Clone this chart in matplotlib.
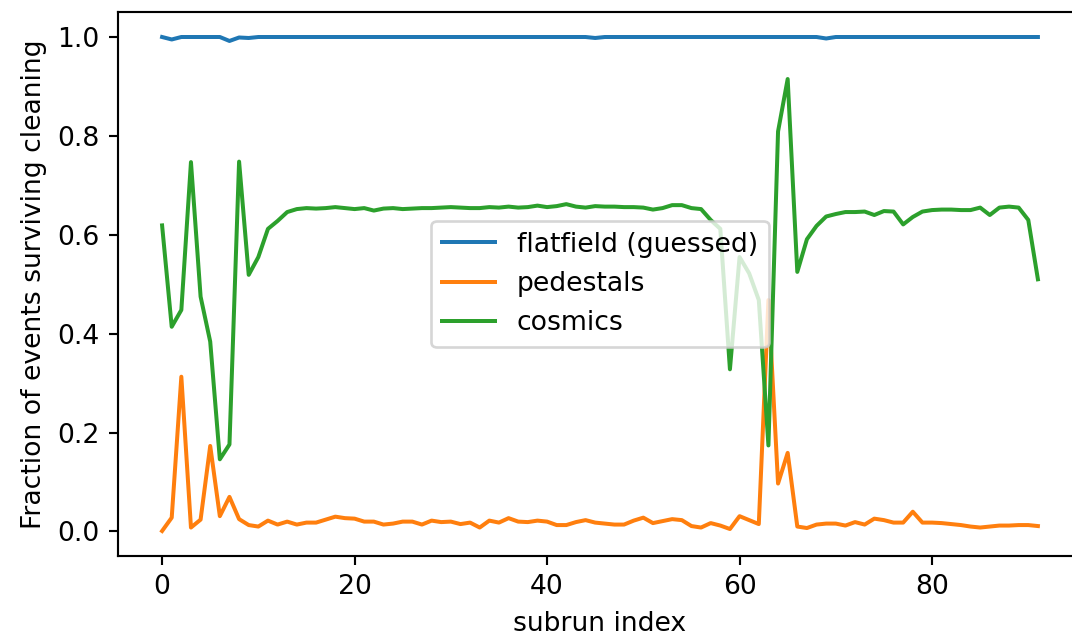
import matplotlib
matplotlib.use("Agg")
import matplotlib.pyplot as plt
import numpy as np

subrun_index = np.arange(92)

flatfield = [1.0, 0.995, 1.0, 1.0, 1.0, 1.0, 1.0, 0.992, 0.999, 0.998,
             1.0, 1.0, 1.0, 1.0, 1.0, 1.0, 1.0, 1.0, 1.0, 1.0,
             1.0, 1.0, 1.0, 1.0, 1.0, 1.0, 1.0, 1.0, 1.0, 1.0,
             1.0, 1.0, 1.0, 1.0, 1.0, 1.0, 1.0, 1.0, 1.0, 1.0,
             1.0, 1.0, 1.0, 1.0, 1.0, 0.998, 1.0, 1.0, 1.0, 1.0,
             1.0, 1.0, 1.0, 1.0, 1.0, 1.0, 1.0, 1.0, 1.0, 1.0,
             1.0, 1.0, 1.0, 1.0, 1.0, 1.0, 1.0, 1.0, 1.0, 0.997,
             1.0, 1.0, 1.0, 1.0, 1.0, 1.0, 1.0, 1.0, 1.0, 1.0,
             1.0, 1.0, 1.0, 1.0, 1.0, 1.0, 1.0, 1.0, 1.0, 1.0,
             1.0, 1.0]

pedestals = [0.001, 0.028, 0.313, 0.008, 0.024, 0.173, 0.031, 0.070, 0.025, 0.013,
             0.010, 0.022, 0.014, 0.020, 0.014, 0.018, 0.018, 0.024, 0.030, 0.027,
             0.026, 0.020, 0.020, 0.014, 0.016, 0.020, 0.020, 0.014, 0.022, 0.019,
             0.020, 0.015, 0.018, 0.008, 0.022, 0.018, 0.027, 0.020, 0.019, 0.022,
             0.020, 0.013, 0.013, 0.019, 0.023, 0.018, 0.016, 0.014, 0.014, 0.022,
             0.028, 0.017, 0.021, 0.025, 0.023, 0.011, 0.008, 0.017, 0.012, 0.005,
             0.031, 0.023, 0.015, 0.468, 0.097, 0.159, 0.010, 0.007, 0.014, 0.016,
             0.016, 0.012, 0.019, 0.014, 0.026, 0.023, 0.018, 0.018, 0.040, 0.018,
             0.018, 0.017, 0.015, 0.013, 0.010, 0.008, 0.010, 0.012, 0.012, 0.013,
             0.013, 0.011]

cosmics = [0.619, 0.414, 0.448, 0.747, 0.475, 0.384, 0.146, 0.176, 0.748, 0.519,
           0.555, 0.612, 0.628, 0.646, 0.652, 0.654, 0.653, 0.654, 0.656, 0.654,
           0.652, 0.654, 0.649, 0.653, 0.654, 0.652, 0.653, 0.654, 0.654, 0.655,
           0.656, 0.655, 0.654, 0.654, 0.656, 0.655, 0.657, 0.655, 0.656, 0.659,
           0.656, 0.658, 0.662, 0.657, 0.655, 0.658, 0.657, 0.657, 0.656, 0.656,
           0.655, 0.651, 0.654, 0.660, 0.660, 0.654, 0.652, 0.630, 0.612, 0.328,
           0.555, 0.522, 0.468, 0.174, 0.809, 0.915, 0.525, 0.591, 0.618, 0.637,
           0.642, 0.646, 0.646, 0.647, 0.640, 0.648, 0.647, 0.621, 0.636, 0.647,
           0.650, 0.651, 0.651, 0.650, 0.650, 0.655, 0.640, 0.655, 0.657, 0.655,
           0.630, 0.510]

labels = ["flatfield (guessed)", "pedestals", "cosmics"]

DPI = 192
fig = plt.figure(figsize=(1072 / DPI, 639 / DPI), dpi=DPI)
ax = fig.add_axes([118.3 / 1072, (639 - 555.7) / 639,
                   (1081.7 - 118.3) / 1072, (555.7 - 12.3) / 639])

ax.plot(subrun_index, flatfield, label=labels[0])
ax.plot(subrun_index, pedestals, label=labels[1])
ax.plot(subrun_index, cosmics, label=labels[2])

ax.set_xlabel("subrun index")
ax.set_ylabel("Fraction of events surviving cleaning")
ax.legend(loc="center")

fig.savefig("out.png", dpi=DPI)
